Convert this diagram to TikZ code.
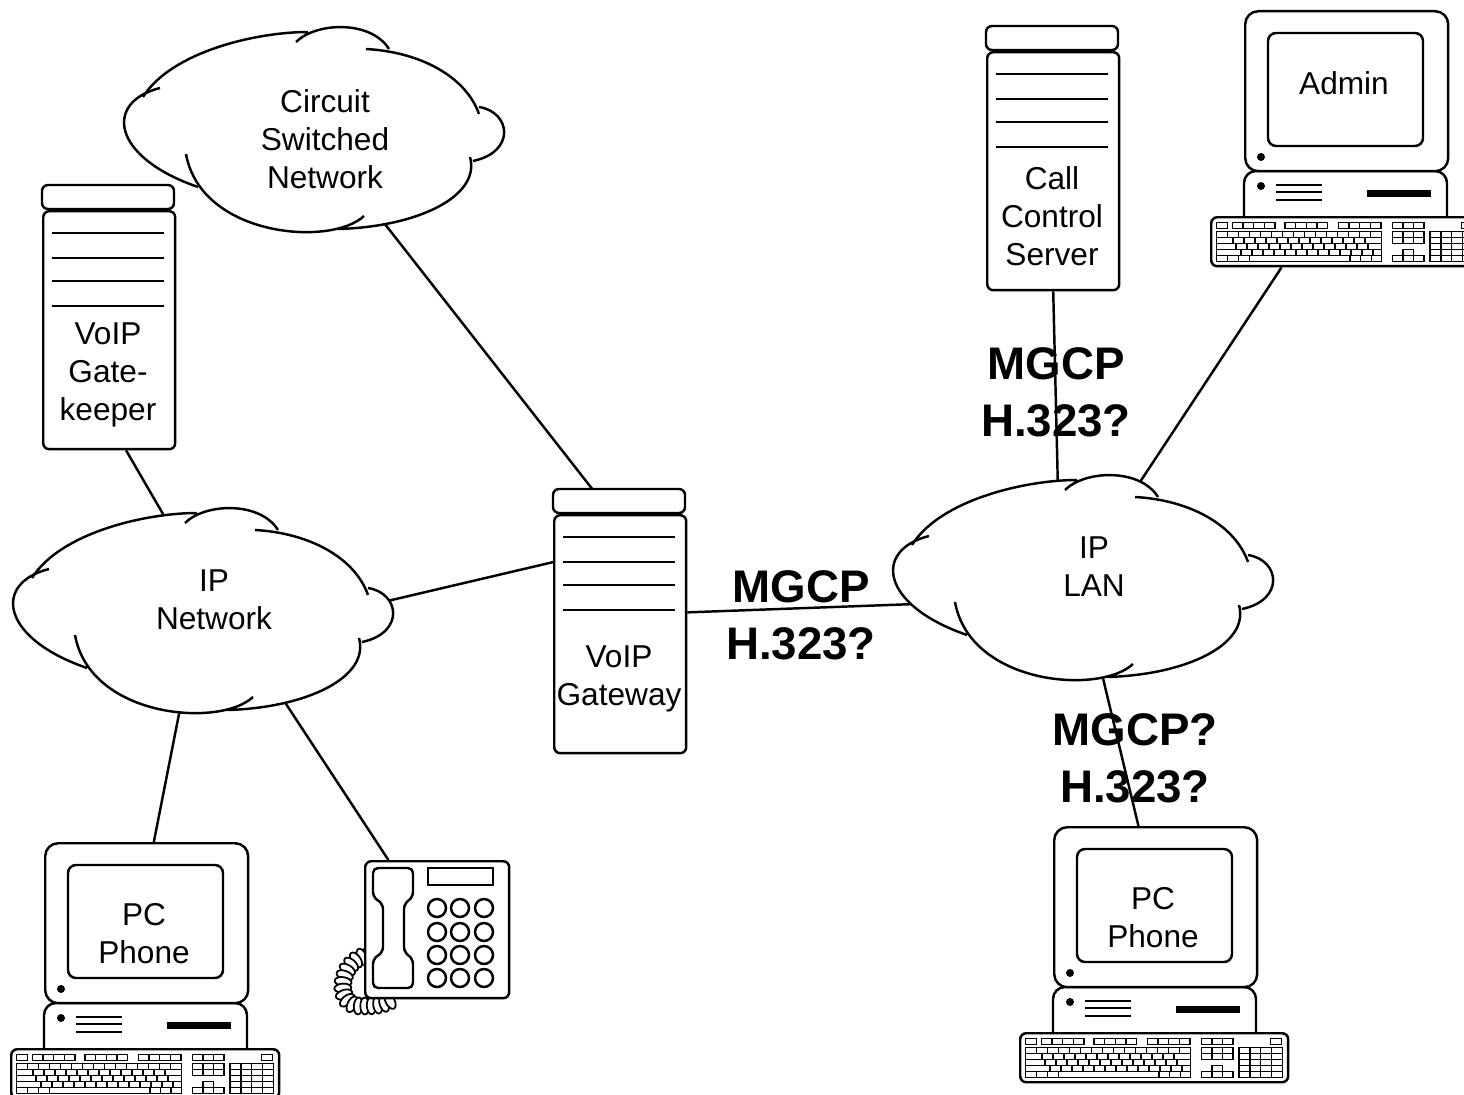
\documentclass[tikz,border=0pt]{standalone}
\usepackage{fontspec}
\setmainfont{Liberation Sans}
\usetikzlibrary{backgrounds,decorations.markings}

\tikzset{
  kit/.style={draw, fill=white, rounded corners=0.12cm},
  link/.style={line width=1.4pt},
  devlabel/.style={font=\fontsize{18}{21.6}\selectfont, align=center, inner sep=0pt},
  proto/.style={font=\fontsize{26}{32.3}\selectfont\bfseries, align=center, inner sep=0pt},
  % rack server, origin at the top left of the lid
  server/.pic={
    \draw[kit] (0,0) rectangle (132,24);
    \node[kit, anchor=north west, inner sep=0pt, minimum width=2.64cm, minimum height=4.76cm] (-body) at (0,25) {};
    \foreach \y in {48,73,96,121}
      \draw (10,\y) -- (122,\y);
    \node[devlabel] (-text) at (66,190) {#1};
  },
  % desktop computer, origin at the top left of the monitor
  computer/.pic={
    \draw[kit, rounded corners=0.24cm] (0,161) rectangle (203,230);
    \fill (17,176) circle (0.08cm);
    \foreach \y in {175,182,190}
      \draw (32,\y) -- (78,\y);
    \fill (123,180) rectangle (187,187);
    \node[kit, rounded corners=0.26cm, anchor=north west, inner sep=0pt, minimum width=4.06cm, minimum height=3.2cm] (-mon) at (0,0) {};
    \draw[rounded corners=0.16cm] (24,23) rectangle (179,136);
    \fill (17,147) circle (0.08cm);
    \node[devlabel, anchor=north] (-text) at (100,60) {#1};
    \node[kit, anchor=north west, inner sep=0pt, minimum width=5.36cm, minimum height=0.98cm] (-kbd) at (-34,206) {};
    \begin{scope}[shift={(-34,206)}, line width=0.8pt]
      % function keys
      \foreach \x in {6.7,22.3,33,43.7,54.3,75,85.7,96.3,107,128.3,139,149.7,160.3,182.3,192.9,203.5,251.7}
        \draw (\x,6.5) rectangle ++(10.6,6);
      % main block
      \foreach \r/\o/\n in {0/6.7/14,1/12/13,2/15/13,3/20/13}{
        \draw (6.7,{15.5+6*\r}) rectangle (171.7,{21.5+6*\r});
        \foreach \k in {1,...,\n}
          \draw ({\o+11*\k},{15.5+6*\r}) -- ++(0,6);
      }
      \draw (6.7,39.5) rectangle (171.7,45.5);
      \foreach \x in {17.5,28.4,39.3,140,150.6,161.2}
        \draw (\x,39.5) -- ++(0,6);
      % cursor block
      \foreach \r in {0,1}
        \foreach \c in {0,1,2}
          \draw ({182.3+10.57*\c},{15.5+6*\r}) rectangle ++(10.57,6);
      \draw (192.87,33.5) rectangle ++(10.57,6);
      \foreach \c in {0,1,2}
        \draw ({182.3+10.57*\c},39.5) rectangle ++(10.57,6);
      % number pad
      \foreach \r in {0,...,4}
        \foreach \c in {0,...,3}
          \draw ({220+10.8*\c},{15.5+6*\r}) rectangle ++(10.8,6);
    \end{scope}
  },
  % desk telephone, origin at the top left of the base
  deskphone/.pic={
    % coiled cord
    \path[decorate, decoration={markings, mark=between positions 0 and 1 step 0.13cm with
        {\draw[fill=white, line width=1pt] (0,0) ellipse (0.09cm and 0.17cm);}}]
      (4,95) .. controls (-26,100) and (-30,146) .. (-4,146) .. controls (8,146) and (18,146) .. (28,140);
    \node[kit, anchor=north west, inner sep=0pt, minimum width=2.88cm, minimum height=2.74cm] (-body) at (0,0) {};
    \draw (64,8) rectangle (129,25);
    \foreach \x in {73,96,120}
      \foreach \y in {48,72,95,118}
        \draw (\x,\y) circle (0.18cm);
    \draw[rounded corners=0.1cm] (9,8) -- (49,8) -- (49,37) -- (40,44) -- (40,92) -- (49,99)
      -- (49,128) -- (9,128) -- (9,99) -- (19,92) -- (19,44) -- (9,37) -- cycle;
  },
  % network cloud, origin at its middle
  netcloud/.pic={
    \fill[white] (-118,55) .. controls (-205,25) and (-212,-30) .. (-156,-44)
      -- (-173,-35) .. controls (-145,-80) and (-60,-100) .. (-8,-100)
      -- (-20,-90) .. controls (0,-110) and (55,-112) .. (73,-83)
      -- (50,-83) .. controls (105,-80) and (150,-55) .. (163,-18)
      -- (163,-25) .. controls (195,-20) and (200,20) .. (157,29)
      -- (154,25) .. controls (165,65) and (100,95) .. (22,97)
      -- (48,84) .. controls (15,115) and (-115,105) .. (-130,22) -- cycle;
    \draw (-118,55) .. controls (-205,25) and (-212,-30) .. (-156,-44)
      (-173,-35) .. controls (-145,-80) and (-60,-100) .. (-8,-100)
      (-20,-90) .. controls (0,-110) and (55,-112) .. (73,-83)
      (50,-83) .. controls (105,-80) and (150,-55) .. (163,-18)
      (163,-25) .. controls (195,-20) and (200,20) .. (157,29)
      (154,25) .. controls (165,65) and (100,95) .. (22,97)
      (48,84) .. controls (15,115) and (-115,105) .. (-130,22);
    \node[inner sep=0pt, minimum width=4cm, minimum height=2.2cm] (-in) at (0,0) {};
    \node[devlabel, anchor=north] (-text) at (9,-44) {#1};
  }
}

\begin{document}
\begin{tikzpicture}[x=0.02cm, y=-0.02cm, line width=1.4pt]
  \useasboundingbox (0,0) rectangle (1464,1095);

  \pic (csn) at (316,132) {netcloud={Circuit\\Switched\\Network}};
  \pic (ipnet) at (205,613) {netcloud={IP\\Network}};
  \pic (lan) at (1085,580) {netcloud={IP\\LAN}};

  \pic (gk) at (42,185) {server={VoIP\\Gate-\\keeper}};
  \pic (gw) at (553,489) {server={VoIP\\Gateway}};
  \pic (ccs) at (986,26) {server={Call\\Control\\Server}};

  \pic (admin) at (1244,10) {computer=Admin};
  \pic (lpc) at (44,842) {computer={PC\\Phone}};
  \pic (rpc) at (1053,826) {computer={PC\\Phone}};
  \pic (phone) at (364,860) {deskphone};

  % links go behind the devices
  \begin{pgfonlayer}{background}
    \fill[white] (0,0) rectangle (1464,1095);
    \draw[link] (gk-body.-82) -- (ipnet-in.107);
    \draw[link] (csn-in.-54) -- (gw-body.94);
    \draw[link] (ipnet-in.-4) -- (gw-body.133);
    \draw[link] (gw-body.18) -- (lan-in.192);
    \draw[link] (ccs-body.south) -- (lan-in.115);
    \draw[link] (admin-kbd.-158) -- (lan-in.64);
    \draw[link] (lan-in.-82) -- (rpc-mon.102);
    \draw[link] (ipnet-in.-107) -- (lpc-mon.85);
    \draw[link] (ipnet-in.-44) -- (phone-body.125);
  \end{pgfonlayer}

  \node[proto] (gwlan) at (801,615) {MGCP\\H.323?};
  \node[proto] (ccslan) at (1056,392) {MGCP\\H.323?};
  \node[proto] (lanpc) at (1135,758) {MGCP?\\H.323?};
\end{tikzpicture}
\end{document}
